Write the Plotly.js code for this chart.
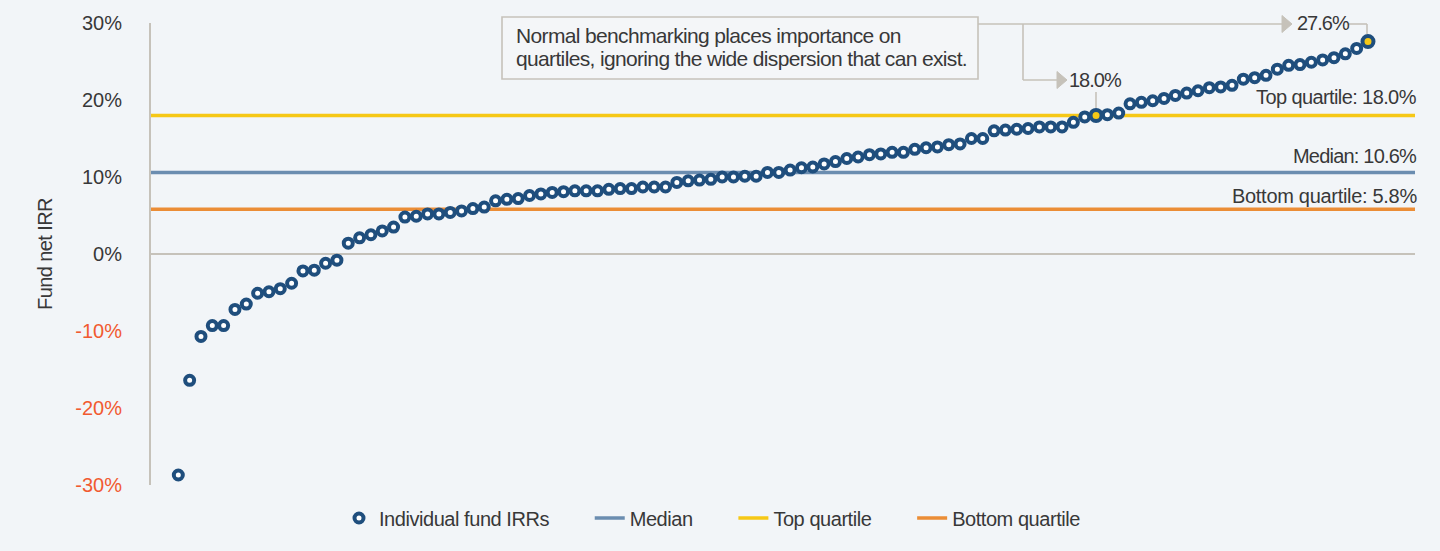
<!DOCTYPE html>
<html><head><meta charset="utf-8">
<script src="https://cdn.plot.ly/plotly-3.0.1.min.js"></script>
<style>html,body{margin:0;padding:0;background:#f2f5f8;}#chart{width:1440px;height:551px;}</style>
</head><body><div id="chart"></div>
<script>
// ---- data ----
const fundIRR = [-28.7,-16.4,-10.7,-9.3,-9.3,-7.2,-6.5,-5.1,-4.9,-4.5,
  -3.8,-2.2,-2.1,-1.2,-0.8,1.4,2.1,2.5,3.0,3.5,
  4.8,4.9,5.2,5.2,5.4,5.6,5.9,6.1,6.9,7.1,
  7.2,7.6,7.8,8.0,8.1,8.2,8.2,8.2,8.4,8.5,
  8.5,8.7,8.7,8.7,9.3,9.5,9.6,9.7,10.0,10.0,
  10.1,10.1,10.6,10.6,10.9,11.2,11.3,11.7,12.0,12.4,
  12.6,12.9,13.0,13.2,13.2,13.6,13.8,13.9,14.2,14.3,
  15.0,15.0,16.0,16.1,16.2,16.3,16.5,16.5,16.5,17.1,
  17.8,18.0,18.1,18.3,19.5,19.7,19.9,20.2,20.6,20.9,
  21.2,21.6,21.7,21.9,22.7,22.9,23.2,24.0,24.5,24.6,
  24.9,25.2,25.5,26.0,26.7,27.6];
const medianIRR = 10.6;
const topQuartile = 18.0;
const bottomQuartile = 5.8;
const highlightFunds = [82, 106];           // 1-based fund positions called out
const tickValues = [-30,-20,-10,0,10,20,30];
const tickLabels = ['-30%','-20%','-10%','0%','10%','20%','30%'];
const seriesNames = ['Individual fund IRRs','Median','Top quartile','Bottom quartile'];
const noteLines = ['Normal benchmarking places importance on',
                   'quartiles, ignoring the wide dispersion that can exist.'];

// ---- styling ----
const FONT = '"Liberation Sans",Arial,sans-serif';
const TXT = '#383838';
const NEG = '#f15a30';
const BLUE = '#1f4e7d', MED = '#6b8db0', YEL = '#f6c816', ORG = '#eb8d36', GREY = '#c6c2ba';
const BG = '#f2f5f8';
const xRange = [-1.41, 110.15];
const M = {l:151, r:25, t:23, b:66};
const W = 1440, H = 551, PW = W - M.l - M.r, PH = H - M.t - M.b;
const PX = x => (x - M.l) / PW;
const PY = y => (H - M.b - y) / PH;
const ls = (t, s) => `<span style="letter-spacing:${s}px">${t}</span>`;
const PAD = '\u00a0'.repeat(7);

const xs = fundIRR.map((_, i) => i + 1);
const hx = highlightFunds;
const hy = highlightFunds.map(i => fundIRR[i - 1]);

const lineTrace = (val, name, color, rank, pad) => ({
  type:'scatter', mode:'lines', x:xRange, y:[val, val], name:ls(name + pad, -0.45),
  line:{color:color, width:3.5}, hoverinfo:'skip', legendrank:rank
});

const data = [
  lineTrace(medianIRR, seriesNames[1], MED, 2, PAD),
  lineTrace(topQuartile, seriesNames[2], YEL, 3, PAD),
  lineTrace(bottomQuartile, seriesNames[3], ORG, 4, ''),
  {type:'scatter', mode:'markers', x:xs, y:fundIRR, name:ls(seriesNames[0] + PAD, -0.45), legendrank:1,
   marker:{size:9, color:'#ffffff', line:{color:BLUE, width:4}}, cliponaxis:false},
  {type:'scatter', mode:'markers', x:hx, y:hy, showlegend:false, hoverinfo:'skip',
   marker:{size:11, color:YEL, line:{color:BLUE, width:4}}, cliponaxis:false}
];

const ln = (x0,y0,x1,y1) => ({type:'line', xref:'paper', yref:'paper',
  x0:PX(x0), y0:PY(y0), x1:PX(x1), y1:PY(y1), line:{color:GREY, width:1.6}});
const tri = (x, yc) => ({type:'path', xref:'paper', yref:'paper',
  path:`M ${PX(x)} ${PY(yc-8.5)} L ${PX(x+10)} ${PY(yc)} L ${PX(x)} ${PY(yc+8.5)} Z`,
  fillcolor:GREY, line:{color:GREY, width:1}});

const shapes = [
  {type:'rect', xref:'paper', yref:'paper', x0:PX(502), x1:PX(978), y0:PY(79), y1:PY(17),
   line:{color:GREY, width:1.6}, fillcolor:'#f4f6f8'},
  ln(978,24,1282,24),
  ln(1023,24,1023,80), ln(1023,80,1057,80), tri(1057,80),
  tri(1282,24),
  ln(1348,24,1367,24), ln(1367,24,1367,34),
  ln(1096,92,1096,108)
];

const txt = (t, size, sp, o) => Object.assign({showarrow:false, text:ls(t, sp),
  font:{family:FONT, size:size, color:TXT}}, o);

const annotations = [
  txt(noteLines[0], 21, -0.65, {xref:'paper', yref:'paper', x:PX(514), y:PY(35), xanchor:'left', yanchor:'middle'}),
  txt(noteLines[1], 21, -0.65, {xref:'paper', yref:'paper', x:PX(514), y:PY(58), xanchor:'left', yanchor:'middle'}),
  txt(topQuartile.toFixed(1)+'%', 20, -1, {xref:'paper', yref:'paper', x:PX(1067), y:PY(80), xanchor:'left', yanchor:'middle'}),
  txt(fundIRR[fundIRR.length-1].toFixed(1)+'%', 20, -1, {xref:'paper', yref:'paper', x:PX(1295), y:PY(23), xanchor:'left', yanchor:'middle'}),
  txt(seriesNames[2]+': '+topQuartile.toFixed(1)+'%', 20, -0.6, {xref:'paper', yref:'y', x:PX(1419), y:topQuartile, xanchor:'right', yanchor:'bottom', yshift:5}),
  txt('Median: '+medianIRR.toFixed(1)+'%', 20, -0.8, {xref:'paper', yref:'y', x:PX(1419), y:medianIRR, xanchor:'right', yanchor:'bottom', yshift:3}),
  txt(seriesNames[3]+': '+bottomQuartile.toFixed(1)+'%', 20, -0.3, {xref:'paper', yref:'y', x:PX(1419), y:bottomQuartile, xanchor:'right', yanchor:'bottom', yshift:0})
];

const layout = {
  width:W, height:H, margin:M, paper_bgcolor:BG, plot_bgcolor:BG,
  font:{family:FONT, size:20, color:TXT},
  showlegend:true,
  legend:{orientation:'h', x:PX(339), xanchor:'left', y:PY(518), yanchor:'middle',
    font:{family:FONT, size:20, color:TXT}, bgcolor:'rgba(0,0,0,0)', traceorder:'normal'},
  xaxis:{range:xRange, showgrid:false, zeroline:false, showline:false, showticklabels:false, ticks:''},
  yaxis:{range:[-30,30], tickvals:tickValues,
    ticktext:tickLabels.map((t,i)=> tickValues[i] < 0 ? `<span style="color:${NEG}">${t}</span>` : t),
    showgrid:false, zeroline:true, zerolinecolor:GREY, zerolinewidth:1.5,
    showline:true, linecolor:GREY, linewidth:2, ticks:'outside', ticklen:23, tickcolor:'rgba(0,0,0,0)',
    tickfont:{family:FONT, size:20, color:TXT},
    title:{text:ls('Fund net IRR', -0.6), font:{family:FONT, size:20, color:TXT}, standoff:17}},
  shapes:shapes, annotations:annotations
};

Plotly.newPlot('chart', data, layout, {displayModeBar:false, staticPlot:true});
</script>
</body></html>
